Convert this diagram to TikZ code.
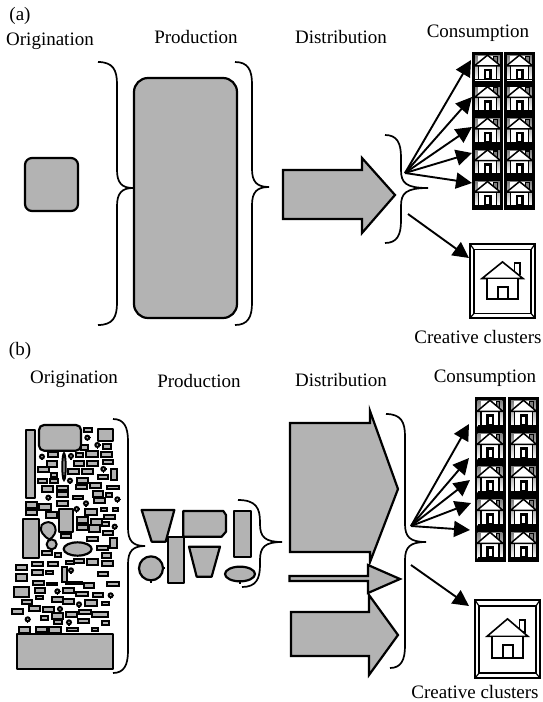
\documentclass[tikz,border=0pt]{standalone}
\usepackage{fontspec}
\setmainfont{Liberation Serif}
\usetikzlibrary{arrows.meta}
\tikzset{
  box/.style={draw=black,fill=shade,line width=2.2pt,line join=round},
  tiny/.style={draw=black,fill=shade,line width=2pt},
  bracepath/.style={draw=black,line width=1.7pt},
  flow/.style={draw=black,line width=1.9pt,-{Triangle[length=16pt,width=16pt]}},
  lab/.style={font=\fontsize{19}{21}\selectfont,inner sep=0pt,text=black}
}
\definecolor{shade}{HTML}{B3B3B3}
\newcommand{\bracedraw}[7]{%
 \draw[bracepath] ({#1},{#2}) .. controls ({#3-4},{#2}) and ({#3},{#2+8}) .. ({#3},{#2+22})
  -- ({#3},{#5-18}) .. controls ({#3},{#5-5}) and ({#3+5},{#5}) .. ({#4},{#5})
  .. controls ({#3+5},{#5}) and ({#3},{#5+5}) .. ({#3},{#5+18})
  -- ({#3},{#6-22}) .. controls ({#3},{#6-8}) and ({#3-4},{#6}) .. ({#7},{#6});}
\newcommand{\houseshape}{%
 \draw[line width=1.6pt,fill=white] (.76,.08) rectangle (.88,.30);
 \draw[line width=1.6pt,fill=white,line join=miter] (.5,.06) -- (.95,.38) -- (.05,.38) -- cycle;
 \draw[line width=1.6pt,fill=white] (.16,.38) rectangle (.84,.78);
 \draw[line width=1.6pt,fill=white] (.40,.54) rectangle (.62,.78);}
\newcommand{\cell}[4]{%
 \begin{scope}[shift={(#1,#2)},x=#3pt,y=-#4pt]
  \fill[black] (0,0) rectangle (1,1);
  \fill[shade] (.1,.11) rectangle (.9,.89);
  \fill[white] (.2,.12) rectangle (.8,.88);
  \begin{scope}[shift={(.08,.1)},x=.84*#3pt,y=-.8*#4pt]
  \draw[line width=1.1pt,fill=black!50] (.74,.04) rectangle (.88,.32);
  \draw[line width=1.5pt,fill=white,line join=miter] (.5,.0) -- (1,.42) -- (0,.42) -- cycle;
  \draw[line width=1.5pt] (.16,.42) -- (.16,.95) (.84,.42) -- (.84,.95);
  \draw[line width=2.4pt,fill=white] (.4,.58) rectangle (.62,.95);
  \draw[line width=1.8pt] (.02,.96) -- (.98,.96);
  \end{scope}
 \end{scope}}
\newcommand{\bigframe}[4]{%
 \begin{scope}[shift={(#1,#2)},x=#3pt,y=-#4pt]
  \draw[line width=2.3pt,fill=white] (0,0) rectangle (1,1);
  \draw[line width=1.7pt] (.06,.075) rectangle (.94,.94);
  \draw[line width=1.2pt] (0,0) -- (.06,.075) (1,0) -- (.94,.075) (0,1) -- (.06,.94) (1,1) -- (.94,.94);
  \begin{scope}[shift={(.15,.2)},x=.7*#3pt,y=-.7*#4pt]
  \houseshape
  \end{scope}
 \end{scope}}
\newcommand{\grid}[4]{%
 \foreach \r in {0,...,4}{
  \pgfmathsetmacro{\yy}{#3+\r*#4}
  \cell{#1}{\yy}{31}{#4}
  \cell{#2}{\yy}{31}{#4}}
}
\begin{document}
\begin{tikzpicture}[x=1pt,y=-1pt]
\useasboundingbox (0,0) rectangle (542,702);
\fill[white] (0,0) rectangle (542,702);

\node[lab] (alabel) at (20,16) {(a)};
\node[lab] (aorig) at (50,41) {Origination};
\node[lab] (aprod) at (196,37) {Production};
\node[lab] (adist) at (341,37) {Distribution};
\node[lab] (acons) at (478,33) {Consumption};
\node[lab] (acrea) at (478,337) {Creative clusters};
\node[lab] (blabel) at (20,351) {(b)};
\node[lab] (borig) at (74,379) {Origination};
\node[lab] (bprod) at (199,381) {Production};
\node[lab] (bdist) at (341,380) {Distribution};
\node[lab] (bcons) at (485,378) {Consumption};
\node[lab] (bcrea) at (475,692) {Creative clusters};

\draw[box,rounded corners=7pt] (25,158) rectangle (78,211);
\draw[box,rounded corners=14pt] (134,78) rectangle (237,318);
\draw[box,line join=miter] (283,170) -- (362,170) -- (362,158) -- (395,195) -- (362,233) -- (362,219) -- (283,219) -- cycle;
\bracedraw{98}{62}{117}{133}{188}{325}{98}
\bracedraw{235}{62}{252}{269}{187}{325}{235}
\bracedraw{385}{135}{401}{428}{188}{243}{385}

\grid{472}{504}{52}{31.6}
\bigframe{470}{244}{65}{74}

\coordinate (asrc) at (405,173);
\coordinate (asrc2) at (408,214);
\coordinate (ah1) at (471,60);
\coordinate (ah2) at (472,97);
\coordinate (ah3) at (472,127);
\coordinate (ah4) at (472,153);
\coordinate (ah5) at (472,183);
\coordinate (aframe) at (469,258);
\draw[flow] (asrc) -- (ah1);
\draw[flow] (asrc) -- (ah2);
\draw[flow] (asrc) -- (ah3);
\draw[flow] (asrc) -- (ah4);
\draw[flow] (asrc) -- (ah5);
\draw[flow] (asrc2) -- (aframe);

\begin{scope}[shift={(0,410)},x=0.33333pt,y=-0.33333pt]
 \draw[box] (78,60) rectangle (106,265);
 \draw[box,rounded corners=5pt] (117,45) rectangle (243,122);
 \draw[box] (293,58) rectangle (340,92);
 \draw[box] (68,328) rectangle (118,445);
 \draw[box] (177,298) rectangle (218,367);
 \draw[box] (50,672) rectangle (340,776);
 \draw[box] (233,417) ellipse [x radius=42,y radius=20];
 \draw[tiny] (192,170) ellipse [x radius=5,y radius=40];
 \draw[tiny] (185,470) rectangle (200,515);
 \draw[tiny] (125,345) .. controls (135,335) and (155,330) .. (165,350) .. controls (172,365) and (160,380) .. (150,388) .. controls (135,385) and (115,360) .. (125,345) -- cycle;
 \draw[tiny] (155,403) circle [radius=15];
 \foreach \a/\b/\c/\d in {
 253/53/277/65,243/105/263/120,310/103/332/118,145/125/175/142,258/122/295/141,303/125/335/140,
 228/130/250/140,140/152/170/170,222/152/253/167,262/152/295/168,308/150/338/163,113/172/146/185,
 152/188/172/200,205/177/238/192,247/177/280/192,332/177/350/210,295/195/325/208,115/206/140/218,
 150/208/173/220,232/204/265/218,125/228/158/245,172/228/205/240,228/226/262/238,270/218/303/235,
 322/227/357/238,278/243/308/260,170/247/203/262,170/272/203/288,218/258/248/268,318/250/337/262,
 282/263/316/280,77/276/110/294,118/283/153/300,78/301/112/314,138/307/172/323,256/297/290/315,
 302/293/322/303,338/293/355/304,312/314/345/328,230/322/265/338,272/328/305/344,306/336/326/348,
 230/346/265/360,268/346/300/366,310/362/340/374,182/373/212/385,262/380/295/392,330/384/350/414,
 292/408/325/420,125/424/155/436,165/428/182/441,305/430/333/445,222/447/252/460,260/448/293/465,
 198/453/222/462,307/453/340/469,48/465/82/480,95/456/128/468,145/455/175/467,48/492/80/512,
 95/480/128/495,137/483/160/491,295/485/325/497,100/512/132/525,140/518/172/526,198/516/220/523,
 226/516/245/523,252/518/283/533,322/515/356/527,42/532/88/562,105/535/136/548,108/558/130/567,
 190/535/223/550,228/546/263/557,278/548/310/562,155/560/190/576,188/567/222/583,65/570/95/582,
 255/570/290/588,305/575/327/584,88/587/120/602,35/597/70/612,130/590/162/607,155/609/188/628,
 198/606/232/620,237/600/272/612,275/606/325/622,122/618/145/630,162/630/185/642,235/628/268/640,
 306/634/327/644,57/652/90/668,108/652/142/665,148/652/183/668,200/653/235/664,276/653/295/663}
  {\draw[tiny] (\a,\b) rectangle (\c,\d);}
 \foreach \a/\b in {262/83,292/105,126/140,213/138,310/177,210/212,145/263,258/280,352/268,230/297,
  344/350,213/481,172/544,332/556,237/583,180/597,83/628,207/637}
  {\draw[tiny] (\a,\b) circle [radius=6]; \draw[line width=1.4pt] (\a,\b) ++(0,6) -- ++(0,5) (\a,\b) ++(6,0) -- ++(4,0);}
\end{scope}

\begin{scope}[shift={(120,480)},x=0.33333pt,y=-0.33333pt]
 \draw[box] (65,90) -- (163,90) -- (137,185) -- (95,185) -- cycle;
 \draw[box] (190,93) -- (310,93) -- (318,105) -- (318,155) -- (305,170) -- (190,170) -- cycle;
 \draw[box] (145,170) rectangle (192,308);
 \draw[box] (342,92) rectangle (392,232);
 \draw[box] (93,265) circle [radius=36];
 \draw[line width=1.7pt] (93,301) -- (93,309) (129,265) -- (135,265);
 \draw[box] (207,200) -- (300,200) -- (275,290) -- (230,290) -- cycle;
 \draw[box] (360,282) ellipse [x radius=45,y radius=22];
 \draw[line width=1.7pt] (360,304) -- (360,311);
\end{scope}
\bracedraw{113}{419}{128}{145}{546}{673}{113}
\bracedraw{238}{500}{260}{282}{542}{587}{242}
\bracedraw{386}{414}{405}{426}{542}{668}{390}

\draw[box,line join=miter] (290,423) -- (370,423) -- (370,411) -- (398,489) -- (370,562) -- (370,552) -- (290,552) -- cycle;
\draw[box,line join=miter] (291,612) -- (369,612) -- (369,595) -- (398,635) -- (369,675) -- (369,656) -- (291,656) -- cycle;
\draw[box,line join=miter] (289.5,576) -- (368,576) -- (368,565) -- (400,579) -- (368,593) -- (368,581) -- (289.5,581) -- cycle;

\grid{474.5}{508}{397}{33}
\bigframe{475}{600}{65}{78}

\coordinate (bsrc) at (411,526);
\coordinate (bsrc2) at (411,565);
\coordinate (bh1) at (469,424);
\coordinate (bh2) at (469,458);
\coordinate (bh3) at (470,480);
\coordinate (bh4) at (471,503);
\coordinate (bh5) at (470,530);
\coordinate (bframe) at (469,606);
\draw[flow] (bsrc) -- (bh1);
\draw[flow] (bsrc) -- (bh2);
\draw[flow] (bsrc) -- (bh3);
\draw[flow] (bsrc) -- (bh4);
\draw[flow] (bsrc) -- (bh5);
\draw[flow] (bsrc2) -- (bframe);
\end{tikzpicture}
\end{document}
